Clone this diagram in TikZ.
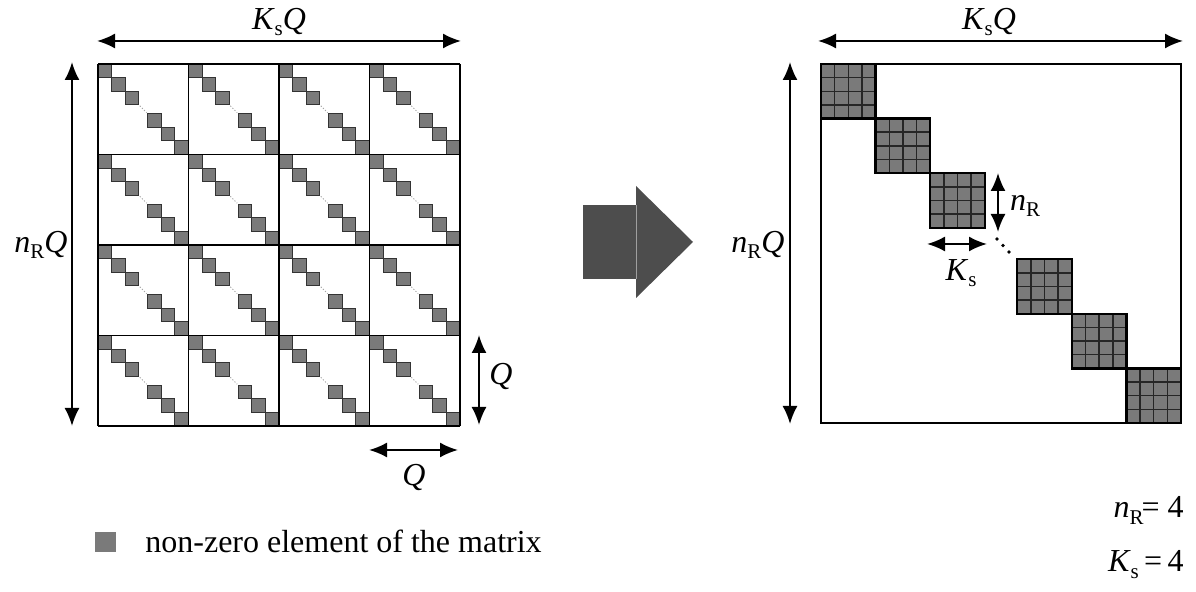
\documentclass[tikz,border=0pt]{standalone}
\usepackage{fontspec}
\setmainfont{Liberation Serif}
\usetikzlibrary{arrows.meta}
\definecolor{sqfill}{HTML}{7A7A7A}
\definecolor{sqedge}{HTML}{333333}
\definecolor{bigarrow}{HTML}{4D4D4D}
\newcommand{\mysub}[1]{\raisebox{-0.45ex}{\fontsize{10.5}{11}\selectfont #1}}
\begin{document}
\begin{tikzpicture}[x=0.5pt,y=-0.5pt,
  dimarrow/.style={{Latex[length=9pt,width=7.5pt]}-{Latex[length=9pt,width=7.5pt]}, line width=1pt},
  lbl/.style={font=\fontsize{16}{19}\selectfont, inner sep=0pt},
  smallsq/.style={fill=sqfill, draw=sqedge, line width=0.5pt},
  gridline/.style={line width=0.9pt, draw=black},
  blockgrid/.style={line width=0.75pt, draw=black!85},
  blockedge/.style={line width=1.2pt, draw=black}
]
\useasboundingbox (0,0) rectangle (1196,592);

% ---------- left matrix ----------
\def\LX{98}\def\LY{64}\def\LB{90.5}\def\LS{13.6}
\foreach \i in {0,1,2,3}{
  \foreach \j in {0,1,2,3}{
    \pgfmathsetmacro\bx{\LX+\i*\LB}
    \pgfmathsetmacro\by{\LY+\j*\LB}
    \foreach \k in {0,1,2}{
      \pgfmathsetmacro\ox{\bx+\k*\LS}
      \pgfmathsetmacro\oy{\by+\k*\LS}
      \draw[smallsq] (\ox,\oy) rectangle ++(\LS,\LS);
      \pgfmathsetmacro\px{\bx+\LB-(\k+1)*\LS}
      \pgfmathsetmacro\py{\by+\LB-(\k+1)*\LS}
      \draw[smallsq] (\px,\py) rectangle ++(\LS,\LS);
    }
    \pgfmathsetmacro\dax{\bx+3*\LS+1}
    \pgfmathsetmacro\day{\by+3*\LS+1}
    \pgfmathsetmacro\dbx{\bx+\LB-3*\LS-1}
    \pgfmathsetmacro\dby{\by+\LB-3*\LS-1}
    \draw[gray!70, line width=0.5pt, dash pattern=on 0.6pt off 0.9pt] (\dax,\day) -- (\dbx,\dby);
  }
}
\foreach \i in {0,1,2,3,4}{
  \draw[gridline] (\LX+\i*\LB,\LY) -- (\LX+\i*\LB,\LY+4*\LB);
  \draw[gridline] (\LX,\LY+\i*\LB) -- (\LX+4*\LB,\LY+\i*\LB);
}

% dimension arrows, left
\coordinate (ltA) at (97,41); \coordinate (ltB) at (461,41);
\draw[dimarrow] (ltA) -- (ltB);
\node[lbl] (lKQ) at (279,22) {\textit{K}\mysub{s}\textit{Q}};
\coordinate (lvA) at (72,62); \coordinate (lvB) at (72,426);
\draw[dimarrow] (lvA) -- (lvB);
\node[lbl] (lnQ) at (41,245) {\textit{n}\mysub{R}\textit{Q}};
\coordinate (qvA) at (479,335); \coordinate (qvB) at (479,425);
\draw[dimarrow] (qvA) -- (qvB);
\node[lbl] (qv) at (501,377) {\textit{Q}};
\coordinate (qhA) at (369,450); \coordinate (qhB) at (458,450);
\draw[dimarrow] (qhA) -- (qhB);
\node[lbl] (qh) at (414,478) {\textit{Q}};

% legend
\fill[sqfill] (95,532) rectangle (116,552);
\node[lbl, anchor=west] (legend) at (145,541) {non-zero element of the matrix};

% ---------- big arrow ----------
\fill[bigarrow] (583,205) rectangle (636,279);
\fill[bigarrow] (636,186) -- (693,242) -- (636,298) -- cycle;
\draw[gray!75, line width=0.4pt] (636,205) -- (636,279);

% ---------- right matrix ----------
\def\RX{821}\def\RY{64}\def\RW{360}\def\RH{359}\def\RB{54.6}
\draw[gridline] (\RX,\RY) rectangle (\RX+\RW,\RY+\RH);
\foreach \k in {0,1,2,3,4,5}{
  \pgfmathsetmacro\bx{\k<3 ? \RX+\k*\RB : \RX+\RW-(6-\k)*\RB}
  \pgfmathsetmacro\by{\k<3 ? \RY+\k*\RB : \RY+\RH-(6-\k)*\RB}
  \fill[sqfill] (\bx,\by) rectangle ++(\RB,\RB);
  \foreach \m in {1,2,3}{
    \pgfmathsetmacro\gx{\bx+\m*\RB/4}
    \pgfmathsetmacro\gy{\by+\m*\RB/4}
    \draw[blockgrid] (\gx,\by) -- ++(0,\RB);
    \draw[blockgrid] (\bx,\gy) -- ++(\RB,0);
  }
  \draw[blockedge] (\bx,\by) rectangle ++(\RB,\RB);
}
\foreach \p in {(997,239),(1003,245.5),(1009,252)}{
  \fill \p circle (1.9);
}

% dimension arrows, right
\coordinate (rtA) at (818,41); \coordinate (rtB) at (1183,41);
\draw[dimarrow] (rtA) -- (rtB);
\node[lbl] (rKQ) at (989,22) {\textit{K}\mysub{s}\textit{Q}};
\coordinate (rvA) at (790,62); \coordinate (rvB) at (790,424);
\draw[dimarrow] (rvA) -- (rvB);
\node[lbl] (rnQ) at (758,245) {\textit{n}\mysub{R}\textit{Q}};
\coordinate (nvA) at (998,173); \coordinate (nvB) at (998,232);
\draw[dimarrow] (nvA) -- (nvB);
\node[lbl] (nR) at (1025,206) {\textit{n}\mysub{R}};
\coordinate (khA) at (927,244); \coordinate (khB) at (987,244);
\draw[dimarrow] (khA) -- (khB);
\node[lbl] (Ks) at (961,273) {\textit{K}\mysub{s}};

% parameters
\node[lbl, anchor=base east] (pn) at (1184,518) {\textit{n}\mysub{R}\kern-1pt=\ 4};
\node[lbl, anchor=base east] (pk) at (1184,572) {\textit{K}\mysub{s}\,=\,4};
\end{tikzpicture}
\end{document}
